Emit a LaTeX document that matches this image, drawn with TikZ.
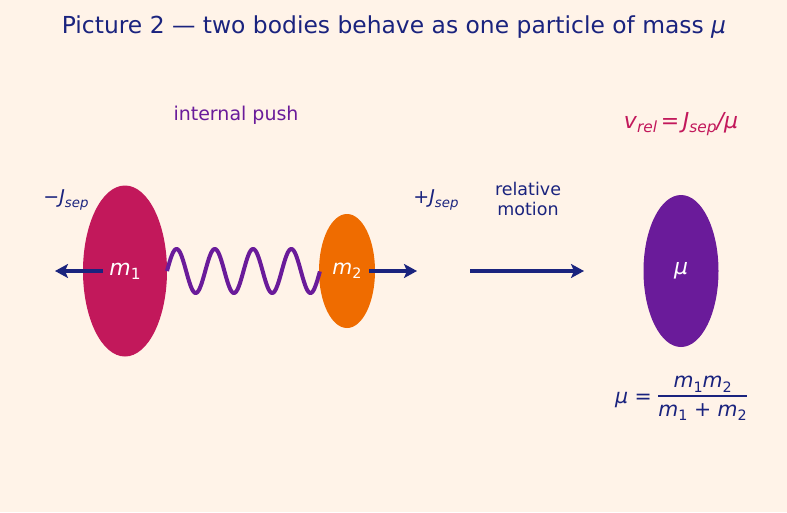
\documentclass[tikz,border=0pt]{standalone}
\usepackage{fontspec}
\setmainfont{DejaVu Sans}
\usetikzlibrary{arrows.meta,shapes.geometric}
\definecolor{bg}{HTML}{FFF3E8}
\definecolor{navy}{HTML}{1A237E}
\definecolor{crim}{HTML}{C2185B}
\definecolor{orng}{HTML}{EF6C00}
\definecolor{purp}{HTML}{6A1B9A}
\newcommand{\vv}[2]{{\itshape #1}\hbox{\fontsize{0.7\dimexpr\fontdimen6\font\relax}{1}\selectfont\itshape\raisebox{-0.28em}{#2}}}
\newcommand{\vd}[2]{{\itshape #1}\hbox{\fontsize{0.7\dimexpr\fontdimen6\font\relax}{1}\selectfont\upshape\raisebox{-0.28em}{#2}}}
\newcommand{\fs}[1]{\fontsize{#1}{#1}\selectfont}
\begin{document}
\begin{tikzpicture}[x=1pt,y=-1pt,
  body/.style={ellipse,inner sep=0pt,text=white},
  lbl/.style={text=navy,inner sep=0pt},
  arr/.style={draw=navy,line width=4.4pt,-{Stealth[length=13pt,width=14pt,inset=3pt]}},
  spring/.style={draw=purp,line width=4pt,line join=round}]
\fill[bg] (0,0) rectangle (787,512);
\useasboundingbox (0,0) rectangle (787,512);
\node[lbl] (title) at (394,27) {\fs{23.4}Picture 2 — two bodies behave as one particle of mass {\itshape μ}};
\node[body,fill=crim,minimum width=84pt,minimum height=171pt] (m1) at (125,271) {\fs{22}\vd{m}{1}};
\node[body,fill=orng,minimum width=56pt,minimum height=114pt] (m2) at (347,271) {\fs{20.5}\vd{m}{2}};
\node[body,fill=purp,minimum width=75pt,minimum height=152pt] (mu) at (681,271) {\fs{22}{\itshape μ}};
\node[text=purp,inner sep=0pt] (push) at (236,115) {\fs{19}internal push};
\node[lbl] (jl) at (66,200) {\fs{19}−\vv{J}{sep}};
\node[lbl] (jr) at (436,200) {\fs{19}+\vv{J}{sep}};
\node[lbl,align=center,font=\fontsize{17.5}{20}\selectfont] (rel) at (528,199) {relative\\motion};
\node[text=crim,inner sep=0pt] (vrel) at (681,124) {\fs{22}\vv{v}{rel}\,=\,\vv{J}{sep}{\itshape /μ}};
\node[lbl] (red) at (681,398) {\fs{20.5}{\itshape μ} = \setlength{\arrayrulewidth}{1.2pt}\renewcommand{\arraystretch}{1.05}\begin{tabular}{@{}c@{}}\vd{m}{1}\vd{m}{2}\\[1pt]\hline\rule{0pt}{20pt}\vd{m}{1} + \vd{m}{2}\end{tabular}};
\coordinate (a1s) at (103,271);
\coordinate (a1e) at (55,271);
\coordinate (a2s) at (369,271);
\coordinate (a2e) at (417,271);
\coordinate (a3s) at (470,271);
\coordinate (a3e) at (584,271);
\draw[arr] (a1s) -- (a1e);
\draw[arr] (a2s) -- (a2e);
\draw[arr] (a3s) -- (a3e);
\coordinate (sp1) at (167,271);
\coordinate (sp2) at (320,271);
\draw[spring] plot[domain=0:1,samples=240,smooth] ({167+153*\x},{271-22*sin(4*360*\x)});
\end{tikzpicture}
\end{document}
